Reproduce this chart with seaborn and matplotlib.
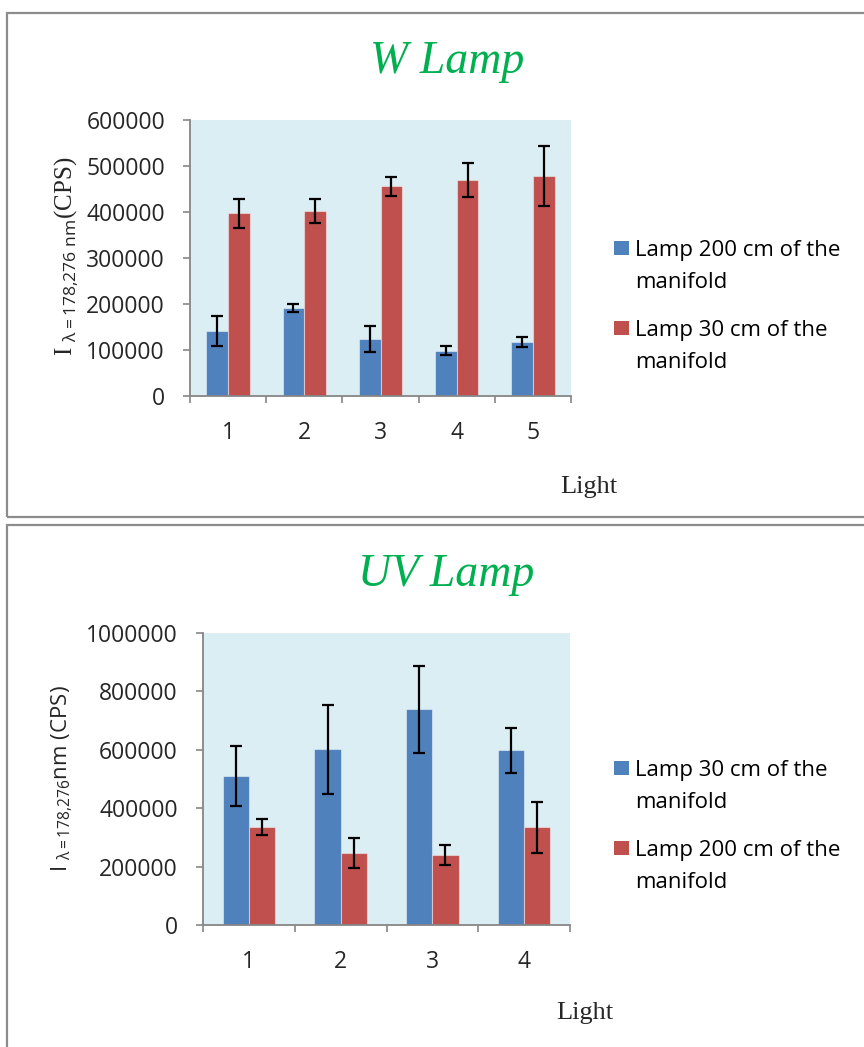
import numpy as np
import pandas as pd
import matplotlib
matplotlib.use("Agg")
import matplotlib.pyplot as plt
import seaborn as sns
from matplotlib.patches import Rectangle
from matplotlib.ticker import FuncFormatter

# ---------------- data ----------------
w_lights = ["1", "2", "3", "4", "5"]
w_series = ["Lamp 200 cm of the\nmanifold", "Lamp 30 cm of the\nmanifold"]
w_200 = [142000, 190600, 123200, 98600, 117400]
w_200_err = [32600, 8700, 28000, 10000, 11000]
w_30 = [397100, 402200, 455800, 469600, 478300]
w_30_err = [31500, 26500, 21000, 38000, 65000]

uv_lights = ["1", "2", "3", "4"]
uv_series = ["Lamp 30 cm of the\nmanifold", "Lamp 200 cm of the\nmanifold"]
uv_30 = [511400, 601600, 738600, 598200]
uv_30_err = [103000, 152000, 150000, 77000]
uv_200 = [335600, 246600, 239700, 334500]
uv_200_err = [29000, 52000, 34000, 88000]

# ---------------- style ----------------
sns.set_style("white")
plt.rcParams["font.family"] = ["Open Sans", "DejaVu Sans"]
plt.rcParams["mathtext.fontset"] = "custom"
plt.rcParams["mathtext.sf"] = "Open Sans"
plt.rcParams["mathtext.rm"] = "Open Sans"
plt.rcParams["mathtext.it"] = "Open Sans:italic"

BLUE = "#4F81BD"
RED = "#C0504D"
BG = "#DBEEF4"
AXGRAY = "#868686"
GREEN = "#00B050"

W, Hpx = 864, 1047
fig = plt.figure(figsize=(W / 100, Hpx / 100), dpi=100)


def fx(x):
    return x / W


def fy(y):
    return 1 - y / Hpx


# panel frames
fig.patches.append(Rectangle((fx(7), fy(517)), 2, fy(13) - fy(517), transform=fig.transFigure,
                             fill=False, edgecolor="#8c8c8c", lw=1.6))
fig.patches.append(Rectangle((fx(7), -0.2), 2, fy(525) + 0.2, transform=fig.transFigure,
                             fill=False, edgecolor="#8c8c8c", lw=1.6))


def panel(rect, lights, series, v1, e1, v2, e2, ymax, step):
    ax = fig.add_axes(rect)
    n = len(lights)
    df = pd.DataFrame({
        "Light": lights * 2,
        "Series": [series[0]] * n + [series[1]] * n,
        "I": v1 + v2,
    })
    sns.barplot(data=df, x="Light", y="I", hue="Series", palette=[BLUE, RED],
                width=0.57, errorbar=None, saturation=1, legend=False, ax=ax,
                edgecolor=(1, 1, 1, 0.45), linewidth=0.8)
    for cont, errs in zip(ax.containers, [e1, e2]):
        xs = [p.get_x() + p.get_width() / 2 for p in cont]
        hs = [p.get_height() for p in cont]
        ax.errorbar(xs, hs, yerr=errs, fmt="none", ecolor="black",
                    elinewidth=1.6, capsize=4.5, capthick=1.6, zorder=5)
    ax.set_facecolor(BG)
    for s in ["top", "right"]:
        ax.spines[s].set_visible(False)
    for s in ["left", "bottom"]:
        ax.spines[s].set_color(AXGRAY)
        ax.spines[s].set_linewidth(1.3)
    ax.set_ylim(0, ymax)
    ax.set_yticks(np.arange(0, ymax + 1, step))
    ax.yaxis.set_major_formatter(FuncFormatter(lambda v, p: f"{int(round(v))}"))
    ax.set_xlim(-0.5, n - 0.5)
    ax.set_xticks(range(n))
    ax.set_xticks(np.arange(-0.5, n, 1.0), minor=True)
    ax.tick_params(axis="y", direction="out", length=5, width=1.2, color=AXGRAY,
                   labelsize=16.5, pad=13, left=True)
    ax.tick_params(axis="x", which="major", length=0, labelsize=16.5, pad=18, bottom=True)
    ax.tick_params(axis="x", which="minor", direction="out", length=5, width=1.2,
                   color=AXGRAY, bottom=True)
    ax.set_xlabel("")
    ax.set_ylabel("")
    return ax


def legend(labels, colors, baselines):
    for lab, col, b in zip(labels, colors, baselines):
        fig.patches.append(Rectangle((fx(614), fy(b - 1)), fx(15), fy(b - 15) - fy(b - 1),
                                     transform=fig.transFigure, facecolor=col, edgecolor="none"))
        for k, line in enumerate(lab.split("\n")):
            fig.text(fx(635), fy(b + 32 * k), line, ha="left", va="baseline",
                     fontsize=16, color="black")


# ---------------- top panel ----------------
ax1 = panel([fx(190), fy(396), fx(571) - fx(190), fy(120) - fy(396)],
            w_lights, w_series, w_200, w_200_err, w_30, w_30_err, 600000, 100000)
fig.text(fx(447), fy(73), "W Lamp", ha="center", va="baseline", color=GREEN,
         fontsize=33, style="italic", family="Liberation Serif")
fig.text(fx(67), fy(256), r"I $_{\mathsf{λ=178{,}276\ nm}}$(CPS)", rotation=90,
         ha="center", va="center", fontsize=18, family="Liberation Serif")
fig.text(fx(560), fy(493), "Light", ha="left", va="baseline", fontsize=19,
         family="Liberation Serif")
legend(w_series, [BLUE, RED], [256, 336])

# ---------------- bottom panel ----------------
ax2 = panel([fx(203), fy(925), fx(570) - fx(203), fy(633) - fy(925)],
            uv_lights, uv_series, uv_30, uv_30_err, uv_200, uv_200_err, 1000000, 200000)
fig.text(fx(446), fy(586), "UV Lamp", ha="center", va="baseline", color=GREEN,
         fontsize=33, style="italic", family="Liberation Serif")
fig.text(fx(62), fy(779), r"I $_{\mathsf{λ=178{,}276}}$nm (CPS)", rotation=90,
         ha="center", va="center", fontsize=16)
fig.text(fx(556), fy(1019), "Light", ha="left", va="baseline", fontsize=19,
         family="Liberation Serif")
legend(uv_series, [BLUE, RED], [776, 856])

fig.savefig("out.png", dpi=100)
